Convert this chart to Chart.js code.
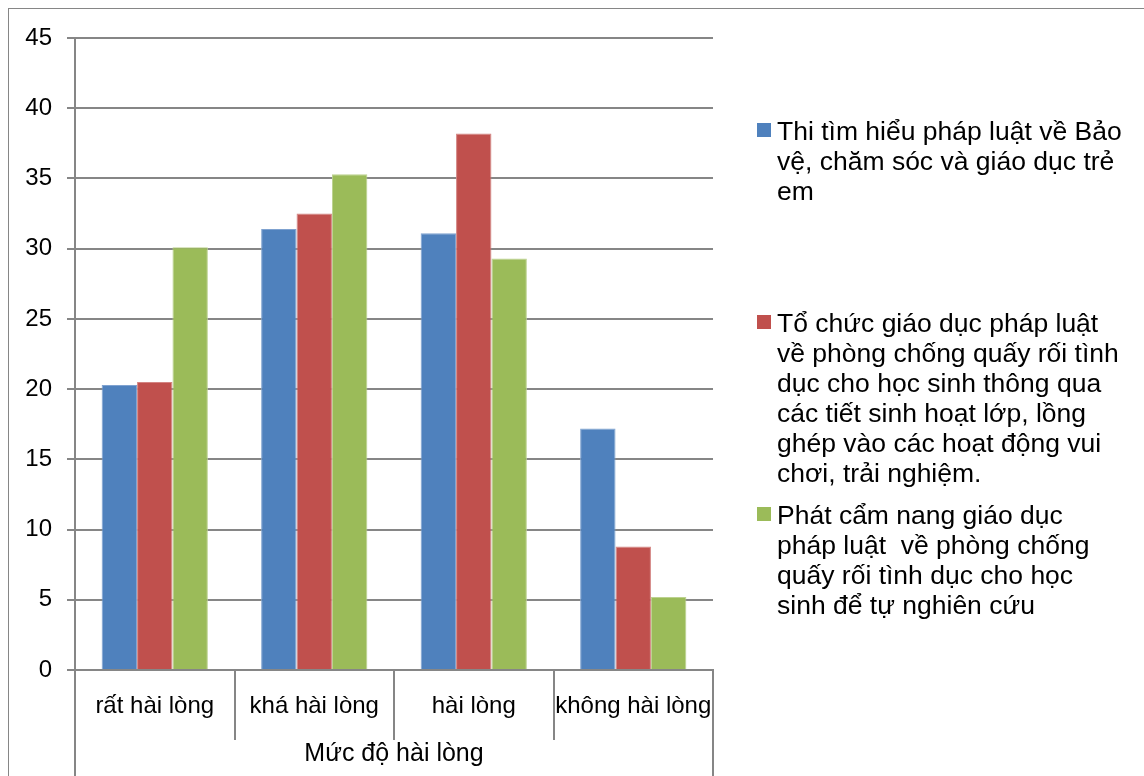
<!DOCTYPE html>
<html>
<head>
<meta charset="utf-8">
<script src="https://cdn.jsdelivr.net/npm/chart.js@4/dist/chart.umd.min.js"></script>
<style>
  body { margin: 0; background: #fff; font-family: "Liberation Sans", Arial, sans-serif; }
  #wrap { position: relative; width: 1144px; height: 776px; overflow: hidden; }
  #frame { position: absolute; left: 8px; top: 8px; width: 1200px; height: 900px; border: 1px solid #868686; }
  #c { position: absolute; left: 0; top: 0; }
  .leg { position: absolute; left: 777px; font-size: 26.5px; line-height: 30px; color: #000; white-space: pre-wrap; }
  .sq { position: absolute; left: 757px; width: 14px; height: 14px; }
</style>
</head>
<body>
<div id="wrap">
  <div id="frame"></div>
  <canvas id="c" width="1144" height="776"></canvas>
</div>
<script>
// categories and values
const categories = ['rất hài lòng', 'khá hài lòng', 'hài lòng', 'không hài lòng'];
const seriesNames = [
  'Thi tìm hiểu pháp luật về Bảo\nvệ, chăm sóc và giáo dục trẻ\nem',
  'Tổ chức giáo dục pháp luật\nvề phòng chống quấy rối tình\ndục cho học sinh thông qua\ncác tiết sinh hoạt lớp, lồng\nghép vào các hoạt động vui\nchơi, trải nghiệm.',
  'Phát cẩm nang giáo dục\npháp luật  về phòng chống\nquấy rối tình dục cho học\nsinh để tự nghiên cứu'
];
const thiTimHieu = [20.3, 31.4, 31.1, 17.2];
const toChucGiaoDuc = [20.5, 32.5, 38.2, 8.8];
const phatCamNang = [30.1, 35.3, 29.3, 5.2];
const axisTitle = 'Mức độ hài lòng';

const colors = ['#4F81BD', '#C0504D', '#9BBB59'];
const edges = ['#7FA2D0', '#D48482', '#BCD28F'];
const legendTops = [116, 308, 500];
const FONT = '"Liberation Sans", Arial, sans-serif';
const GRID = '#868686';

// category divider lines below the axis
const dividers = {
  id: 'dividers',
  afterDraw(chart) {
    const x = chart.scales.x, area = chart.chartArea, ctx = chart.ctx;
    ctx.save();
    ctx.strokeStyle = GRID;
    ctx.lineWidth = 2;
    const n = categories.length;
    for (let i = 0; i <= n; i++) {
      let px, bottom;
      if (i === 0) { px = area.left; bottom = 776; }
      else if (i === n) { px = area.right; bottom = 776; }
      else { px = (x.getPixelForTick(i - 1) + x.getPixelForTick(i)) / 2; bottom = 740; }
      ctx.beginPath();
      ctx.moveTo(Math.round(px), area.bottom);
      ctx.lineTo(Math.round(px), bottom);
      ctx.stroke();
    }
    ctx.restore();
  }
};

new Chart(document.getElementById('c'), {
  type: 'bar',
  data: {
    labels: categories,
    datasets: [thiTimHieu, toChucGiaoDuc, phatCamNang].map((d, i) => ({
      label: seriesNames[i],
      data: d,
      backgroundColor: colors[i],
      borderColor: edges[i],
      borderWidth: 1,
      categoryPercentage: 0.666,
      barPercentage: 1
    }))
  },
  options: {
    responsive: false,
    animation: false,
    layout: { padding: { left: 0, right: 431, top: 38, bottom: 0 } },
    plugins: { legend: { display: false }, tooltip: { enabled: false } },
    scales: {
      y: {
        min: 0, max: 45,
        afterFit(s) { s.width = 75; },
        ticks: { stepSize: 5, color: '#000', padding: 15, font: { family: FONT, size: 24 } },
        grid: { color: GRID, lineWidth: 2, tickLength: 8 },
        border: { color: GRID, width: 2 }
      },
      x: {
        afterFit(s) { s.height = 106; },
        grid: { display: false },
        border: { color: GRID, width: 2 },
        ticks: { color: '#000', padding: 14, maxRotation: 0, autoSkip: false, font: { family: FONT, size: 24 } },
        title: { display: true, text: axisTitle, color: '#000', padding: { top: 7, bottom: 7 }, font: { family: FONT, size: 25 } }
      }
    }
  },
  plugins: [dividers]
});

// legend on the right, built from the series names
const wrap = document.getElementById('wrap');
seriesNames.forEach((name, i) => {
  const sq = document.createElement('div');
  sq.className = 'sq';
  sq.style.top = (legendTops[i] + 7) + 'px';
  sq.style.background = colors[i];
  wrap.appendChild(sq);
  const t = document.createElement('div');
  t.className = 'leg';
  t.style.top = legendTops[i] + 'px';
  t.textContent = name;
  wrap.appendChild(t);
});
</script>
</body>
</html>
